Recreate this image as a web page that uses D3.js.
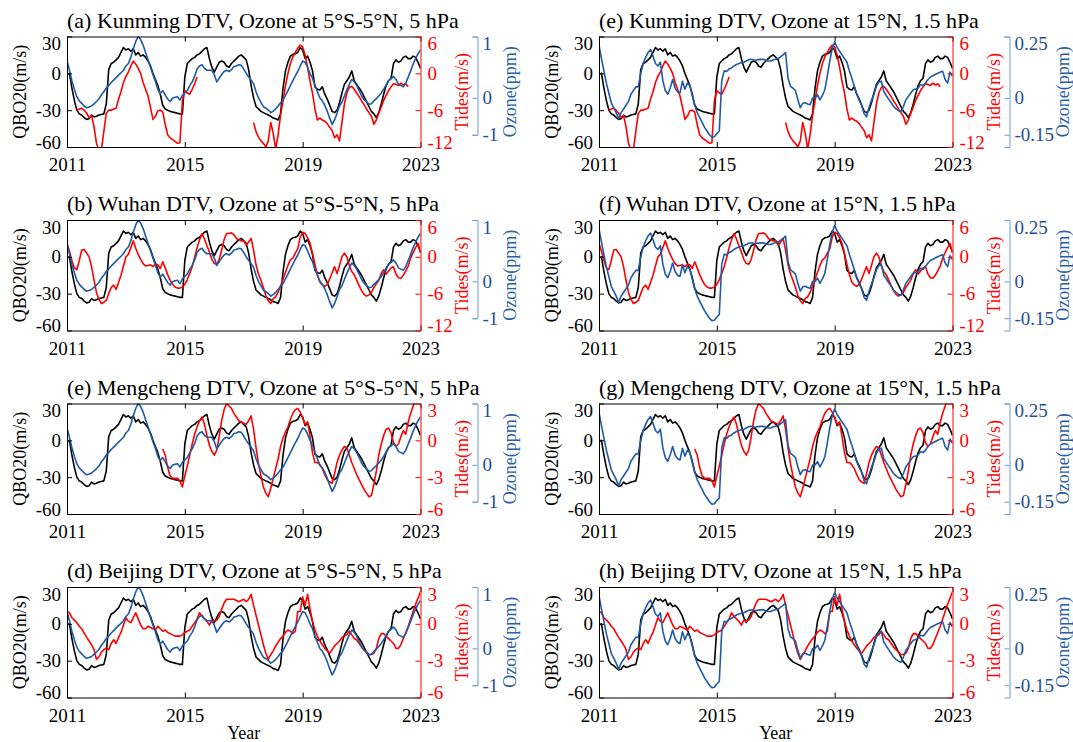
<!DOCTYPE html>
<html>
<head>
<meta charset="utf-8">
<script src="https://cdn.jsdelivr.net/npm/d3@7"></script>
<style>
  body { margin: 0; background: #fff; }
  svg text { font-family: "Liberation Serif", "Times New Roman", serif; }
</style>
</head>
<body>
<svg id="chart" width="1073" height="742"></svg>
<script>
// monthly series, Jan 2011 .. Jan 2023
const startYear = 2011;
const endYear = 2023;
const yearTicks = [2011, 2015, 2019, 2023];
const qboTicks = [30, 0, -30, -60];
const tideTicksLarge = [6, 0, -6, -12];
const tideTicksSmall = [3, 0, -3, -6];
const ozoneTicksLeft = [1, 0, -1];
const ozoneTicksRight = [0.25, 0, -0.15];

const titles = [
  "(a) Kunming DTV, Ozone at 5°S-5°N, 5 hPa",
  "(b) Wuhan DTV, Ozone at 5°S-5°N, 5 hPa",
  "(e) Mengcheng DTV, Ozone at 5°S-5°N, 5 hPa",
  "(d) Beijing DTV, Ozone at 5°S-5°N, 5 hPa",
  "(e) Kunming DTV, Ozone at 15°N, 1.5 hPa",
  "(f) Wuhan DTV, Ozone at 15°N, 1.5 hPa",
  "(g) Mengcheng DTV, Ozone at 15°N, 1.5 hPa",
  "(h) Beijing DTV, Ozone at 15°N, 1.5 hPa"
];

// QBO zonal wind at 20 hPa (m/s)
const qbo = [
  -1, 0, -12, -22, -30, -33, -34, -36, -37.5, -37, -34, -35.5,
  -35, -34, -33.5, -33, -25, 3, 8, 9, 11, 13, 17, 21,
  19, 20, 18, 20, 15, 17, 14, 15, 13, 10, 6, 0,
  -5, -10, -17, -26, -29, -30, -31, -31.5, -32, -32.5, -33, -33,
  -3, 8, 10, 12, 13, 15, 16, 18, 20, 21, 12, 5,
  1, 5, 9, 10, 9, 6, 5, 8, 10, 12, 14, 15,
  13, 11, 3, -10, -20, -27, -29, -31, -32, -33, -34, -35,
  -36.5, -37, -38, -33, -12, 2, 9, 14, 15.5, 16, 17, 21,
  19, 12, 14, 9, 2, -11, -13, -13.5, -11, -17, -21, -26,
  -31, -32, -30, -24, -16, -9, -6, -3, 2, -6, -9, -12,
  -15, -19, -23, -27, -31, -33, -36, -32, -25, -17, -10, -6,
  -4, 8, 11, 9, 10, 13, 14, 12, 12, 14, 13, 9,
  4
];

// ozone anomaly at 5S-5N, 5 hPa (ppm)
const ozone5hPa = [
  0.6, 0.45, 0.28, 0.14, 0.02, -0.08, -0.15, -0.22, -0.27, -0.25, -0.22, -0.16,
  -0.1, -0.03, 0.05, 0.1, 0.16, 0.2, 0.25, 0.29, 0.33, 0.37, 0.41, 0.45,
  0.52, 0.56, 0.66, 0.8, 0.92, 1.0, 0.95, 0.86, 0.74, 0.62, 0.5, 0.38,
  0.27, 0.14, 0.07, 0.12, 0.05, -0.03, -0.1, -0.01, 0.01, 0.02, -0.06, 0.04,
  0.08, 0.12, 0.2, 0.26, 0.35, 0.47, 0.52, 0.54, 0.48, 0.45, 0.45, 0.45,
  0.38, 0.26, 0.32, 0.38, 0.43, 0.45, 0.43, 0.46, 0.51, 0.52, 0.54, 0.53,
  0.47, 0.4, 0.34, 0.29, 0.23, 0.1, 0.0, -0.12, -0.24, -0.28, -0.33, -0.4,
  -0.36, -0.3, -0.22, -0.13, -0.06, 0.04, 0.12, 0.2, 0.28, 0.36, 0.43, 0.52,
  0.6, 0.58, 0.5, 0.4, 0.32, 0.2, 0.1, 0.0, -0.08, -0.2, -0.36, -0.55,
  -0.72, -0.6, -0.42, -0.22, -0.12, 0.03, 0.13, 0.22, 0.3, 0.26, 0.2, 0.12,
  0.03, -0.05, -0.11, -0.17, -0.16, -0.08, -0.02, 0.03, 0.08, 0.14, 0.21, 0.28,
  0.31, 0.35, 0.3, 0.22, 0.2, 0.18, 0.24, 0.34, 0.44, 0.55, 0.64, 0.72,
  0.78
];

// ozone anomaly at 15N, 1.5 hPa (ppm)
const ozone15N = [
  0.215, 0.16, 0.11, 0.06, 0.02, -0.02, -0.04, -0.06, -0.085, -0.06, -0.045, -0.03,
  -0.015, 0.015, 0.03, 0.045, 0.045, 0.1, 0.14, 0.165, 0.185, 0.197, 0.17, 0.14,
  0.13, 0.145, 0.07, 0.03, 0.015, 0.04, 0.075, 0.04, 0.025, 0.02, 0.068, 0.035,
  0.06, 0.05, 0.01, -0.03, -0.06, -0.08, -0.1, -0.12, -0.135, -0.15, -0.16, -0.158,
  -0.145, -0.135, 0.07, 0.11, 0.108, 0.118, 0.122, 0.13, 0.136, 0.14, 0.143, 0.145,
  0.15, 0.155, 0.157, 0.155, 0.154, 0.156, 0.157, 0.157, 0.152, 0.15, 0.15, 0.155,
  0.157, 0.16, 0.168, 0.175, 0.184, 0.08, 0.047, 0.04, 0.03, -0.008, -0.04, -0.022,
  -0.02, -0.025, -0.028, -0.001, 0.0, 0.013, -0.008, 0.01, 0.033, 0.09, 0.15, 0.2,
  0.228, 0.205, 0.19, 0.175, 0.16, 0.145, 0.11, 0.08, 0.047, 0.015, -0.01, -0.03,
  -0.065, -0.077, -0.04, -0.01, 0.015, 0.047, 0.065, 0.068, 0.026, 0.01, -0.005, -0.02,
  -0.035, -0.045, -0.052, -0.056, -0.035, -0.008, 0.006, 0.02, 0.033, 0.036, 0.04, 0.054,
  0.05, 0.06, 0.075, 0.085, 0.09, 0.095, 0.1, 0.105, 0.108, 0.075, 0.06, 0.105,
  0.088
];

// diurnal tide amplitude anomalies (m/s), null = no data
const tidesKunming = [
  null, null, null, null, -6.0, -5.8, -5.7, -6.0, -6.5, -7.2, -6.9, -8.7,
  -11.4, -12.5, -12.5, -9.5, -6.5, -6.0, -6.0, -5.8, -5.7, -4.2, -3.0, -1.5,
  -0.5, 0.2, 1.2, 2.0, 1.5, 0.8, 0.0, -1.5, -2.6, -3.7, -5.5, -7.5,
  -7.0, -6.1, -6.0, -6.3, -8.3, -10.0, -10.5, -10.8, -11.1, -11.4, -11.3, -4.5,
  -2.8, -3.2, -3.4, -2.6, -1.7, -0.6, null, null, null, null, null, null,
  null, null, null, null, null, null, null, null, null, null, null, null,
  null, null, null, null, -8.0, -9.5, -10.4, -11.0, -11.4, -12.0, -11.0, -8.0,
  -9.8, -12.3, -10.0, -6.8, -4.5, -2.0, 0.0, 1.6, 2.7, 3.4, 4.1, 4.6,
  4.3, 3.0, 1.0, -1.3, -3.2, -5.8, -7.6, -7.3, -7.6, -7.8, -8.2, -8.8,
  -9.3, -10.5, -10.0, -11.0, -8.0, -5.0, -3.2, -2.3, -2.1, -2.6, -3.2, -3.8,
  -4.5, -5.1, -5.8, -6.4, -7.0, -8.3, -7.6, -6.5, -5.5, -4.4, -3.6, -2.8,
  -2.2, -1.7, -1.8, -2.0, -1.6, -1.9, -1.7, -2.2, null, null, null, null,
  null
];

const tidesWuhan = [
  2.2, 0.9, -0.6, -1.8, -2.1, -0.6, 1.1, 1.2, 0.6, 0.0, -1.6, -3.8,
  -5.8, -6.9, -7.6, -7.4, -7.1, -6.0, -5.0, -4.6, -5.3, -4.2, -3.0, -1.5,
  0.0, 0.4, 1.5, 2.6, 1.4, 0.4, -0.4, -1.1, -1.5, -1.4, -1.3, -1.6,
  -1.2, -1.3, -1.9, -0.8, -1.8, -2.9, -3.8, -4.5, -4.9, -5.1, -5.1, -4.9,
  -4.5, -3.7, -2.7, -1.6, -0.1, 1.5, 2.8, 3.8, 2.9, 1.8, 0.8, -0.4,
  -1.1, -1.2, -0.4, 1.1, 2.8, 3.8, 3.8, 3.9, 3.6, 3.0, 2.8, 2.6,
  2.6, 1.9, 2.4, 3.0, 1.1, -1.3, -2.8, -3.8, -5.0, -6.3, -7.2, -7.6,
  -6.8, -6.5, -5.8, -4.7, -3.7, -2.5, -1.4, -0.5, -0.2, 0.6, 1.3, 3.2,
  4.0, 3.8, 3.1, 2.2, 0.6, -1.3, -2.9, -4.1, -4.6, -4.8, -4.5, -3.6,
  -2.6, -1.6, -2.7, -1.4, 0.0, 0.6, 0.0, -1.4, -2.4, -2.9, -3.8, -4.7,
  -5.5, -6.1, -6.4, -6.2, -5.8, -5.0, -4.4, -3.8, -2.7, -2.1, -2.8, -2.3,
  -1.8, -1.6, -2.8, -3.4, -3.5, -3.0, -2.3, -1.5, -0.2, 0.7, 1.5, 2.2,
  0.6
];

const tidesMengcheng = [
  null, null, null, null, null, null, null, null, null, null, null, null,
  null, null, null, null, null, null, null, null, null, null, null, null,
  null, null, null, null, null, null, null, null, null, null, null, null,
  null, null, null, -0.7, -1.2, -2.2, -2.9, -3.1, -3.1, -3.1, -3.3, -3.8,
  -2.9, -2.1, -1.2, -0.3, 0.5, 1.1, 1.6, 1.9, 1.3, 0.4, -0.4, -0.9,
  -1.2, -0.8, 0.3, 1.6, 2.5, 3.0, 2.8, 2.6, 2.2, 1.9, 1.6, 1.5,
  1.4, 1.3, 1.6, 2.0, 0.9, -0.6, -1.9, -2.9, -3.8, -4.3, -4.6, -3.9,
  -3.1, -2.3, -1.5, -0.5, 0.2, 0.7, 1.1, 1.7, 2.2, 2.5, 2.6, 2.3,
  1.8, 1.3, 1.5, 0.3, -1.0, -1.8, -1.8, -2.0, -2.3, -2.8, -3.2, -3.4,
  -3.5, -2.7, -1.8, -1.2, -0.8, -0.5, -0.6, -1.2, -1.8, -2.3, -2.8, -3.2,
  -3.6, -4.0, -4.3, -4.6, -4.5, -3.6, -2.5, -1.2, -0.3, 0.4, 0.9, 1.0,
  0.6, -0.2, -0.5, -0.3, 0.3, 0.8, 0.5, 1.5, 2.2, 2.8, 3.3, 3.5,
  3.7
];

const tidesBeijing = [
  1.0, 0.9, 0.5, 0.3, 0.1, -0.2, -0.4, -0.75, -1.1, -1.4, -1.7, -2.1,
  -2.9, -2.7, -2.3, -2.1, -1.95, -2.1, -1.6, -1.3, -1.6, -1.1, -0.7, -0.1,
  0.5, 0.2, 0.1, 0.5, 0.9, 0.4, -0.1, -0.4, -0.4, -0.2, -0.3, -0.4,
  -0.5, -0.2, -0.4, -0.6, -0.5, -0.7, -0.8, -0.9, -1.0, -1.0, -1.0, -0.9,
  -0.7, -0.6, -0.5, -0.2, 0.1, 0.4, 0.9, 0.6, 0.4, 0.2, -0.1, 0.3,
  0.2, 0.3, 0.6, 1.2, 1.7, 2.0, 2.0, 2.0, 2.0, 1.9, 1.8, 1.9,
  2.0, 1.8, 2.0, 2.4, 1.5, 0.7, -0.1, -0.9, -1.7, -2.4, -2.9, -2.5,
  -2.2, -1.8, -1.5, -1.2, -1.0, -0.7, -0.5, -0.6, -0.8, -0.6, 1.0, 1.0,
  2.2, 1.5, 2.4, 1.2, 0.2, -0.5, -1.0, -1.4, -1.7, -2.0, -2.2, -2.4,
  -2.1, -1.8, -1.6, -1.4, -1.1, -1.0, -0.9, -0.6, -0.9, -1.2, -1.3, -1.6,
  -1.9, -2.1, -2.3, -2.5, -2.5, -2.4, -2.0, -1.2, -0.8, -0.8, -1.0, -1.2,
  -1.4, -1.6, -2.0, -2.0, -1.7, -1.2, -0.7, -0.2, 0.4, 1.0, 1.6, 2.1,
  2.6
];

const months = qbo.map((_, i) => startYear + i / 12);

// layout
const svg = d3.select("#chart");
const colX = [67, 599];
const rowY = [36.5, 220, 403.5, 587];
const W = 353.5, H = 110.5;
const ozoneOffset = 57;
const tickFont = 19, labelFont = 18, titleFont = 22;
const blueLine = "#1f5aa6", blueAxis = "#6b9bd2", blueText = "#1f4f94";

const stationTides = [tidesKunming, tidesWuhan, tidesMengcheng, tidesBeijing];
const ozoneCols = [ozone5hPa, ozone15N];

function styleAxis(sel, color, textColor) {
  sel.attr("color", color)
    .attr("font-size", tickFont)
    .attr("font-family", "Liberation Serif, Times New Roman, serif");
  sel.selectAll("text").attr("fill", textColor);
  sel.selectAll("path, line").attr("stroke-width", 1);
}

// pull the labels at the ends of a vertical axis slightly inward
function nudgeEnds(sel, scale) {
  sel.selectAll(".tick text").attr("y", d => {
    const p = scale(d);
    return p < 3 ? 7 : p > H - 3 ? -5 : 0;
  });
}

const fmt = d => String(d);

titles.forEach((title, i) => {
  const col = Math.floor(i / 4), row = i % 4;
  const g = svg.append("g").attr("transform", `translate(${colX[col]},${rowY[row]})`);

  const x = d3.scaleLinear([startYear, endYear], [0, W]);
  const y = d3.scaleLinear([-60, 30], [H, 0]);
  const tideDomain = row < 2 ? [-12, 6] : [-6, 3];
  const yT = d3.scaleLinear(tideDomain, [H, 0]);
  const ozBase = d3.scaleLinear([-0.2, 0.25], [H, 0]);
  const yO = col === 0
    ? d3.scaleLinear([-1, 0, 1], [ozBase(-0.15), ozBase(0), ozBase(0.25)])
    : ozBase;

  g.append("clipPath").attr("id", "clip" + i)
    .append("rect").attr("width", W).attr("height", H);
  const plot = g.append("g").attr("clip-path", `url(#clip${i})`);

  const draw = (values, scale, color) => {
    const line = d3.line()
      .defined(d => d[1] != null)
      .x(d => x(d[0]))
      .y(d => scale(d[1]));
    plot.append("path")
      .datum(d3.zip(months, values))
      .attr("fill", "none")
      .attr("stroke", color)
      .attr("stroke-width", 1.6)
      .attr("stroke-linejoin", "round")
      .attr("d", line);
  };

  draw(qbo, y, "#000");
  draw(stationTides[row], yT, "#ff0000");
  draw(ozoneCols[col], yO, blueLine);

  // axes
  g.append("g").attr("transform", `translate(0,${H})`)
    .call(d3.axisBottom(x).tickValues(yearTicks).tickFormat(fmt)
      .tickSizeInner(-5).tickSizeOuter(0).tickPadding(11))
    .call(styleAxis, "#000", "#000");
  g.append("g")
    .call(d3.axisTop(x).tickValues(yearTicks).tickFormat("")
      .tickSizeInner(-5).tickSizeOuter(0))
    .call(styleAxis, "#000", "#000");
  g.append("g")
    .call(d3.axisLeft(y).tickValues(qboTicks).tickFormat(fmt)
      .tickSizeInner(-5).tickSizeOuter(0).tickPadding(6))
    .call(styleAxis, "#000", "#000")
    .call(nudgeEnds, y);
  g.append("g").attr("transform", `translate(${W},0)`)
    .call(d3.axisRight(yT).tickValues(row < 2 ? tideTicksLarge : tideTicksSmall)
      .tickFormat(fmt).tickSizeInner(-5).tickSizeOuter(0).tickPadding(7))
    .call(styleAxis, "#ff0000", "#ff0000")
    .call(nudgeEnds, yT);
  g.append("g").attr("transform", `translate(${W + ozoneOffset},0)`)
    .call(d3.axisRight(yO).tickValues(col === 0 ? ozoneTicksLeft : ozoneTicksRight)
      .tickFormat(fmt).tickSizeInner(-5).tickSizeOuter(-5).tickPadding(5))
    .call(styleAxis, blueAxis, blueText)
    .call(nudgeEnds, yO);

  // labels
  const vLabel = (text, dx, color) => g.append("text")
    .attr("transform", `translate(${dx},${H / 2}) rotate(-90)`)
    .attr("text-anchor", "middle")
    .attr("dy", "0.35em")
    .attr("font-size", labelFont)
    .attr("fill", color)
    .text(text);
  vLabel("QBO20(m/s)", -47, "#000");
  vLabel("Tides(m/s)", W + 41, "#ff0000");
  vLabel("Ozone(ppm)", W + ozoneOffset + (col === 0 ? 32 : 53), "#2a5fa8");

  g.append("text")
    .attr("x", 0).attr("y", -9)
    .attr("font-size", titleFont)
    .attr("fill", "#000")
    .text(title);

  if (row === 3) {
    g.append("text")
      .attr("x", W / 2).attr("y", H + 41)
      .attr("text-anchor", "middle")
      .attr("font-size", labelFont)
      .text("Year");
  }
});
</script>
</body>
</html>
